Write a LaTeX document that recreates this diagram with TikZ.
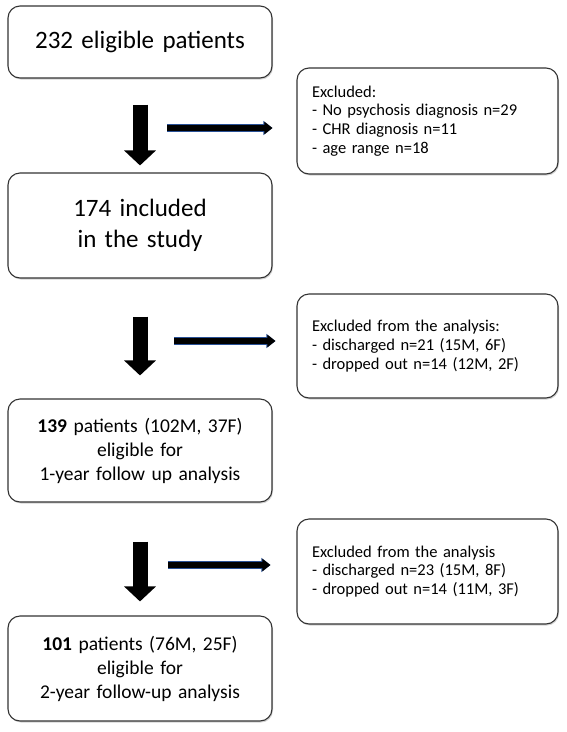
\documentclass[tikz,border=0pt]{standalone}
\usepackage{fontspec}
\setmainfont{Carlito}
\usetikzlibrary{arrows.meta,shadows}

\definecolor{edgeblue}{RGB}{40,80,150}

\tikzset{
    box/.style={draw=black!80, line width=1.1pt, rounded corners=12pt, fill=white,
        drop shadow={shadow xshift=1pt, shadow yshift=-1.5pt, opacity=0.35}},
    mainbox/.style={box, text width=256pt, inner xsep=4pt, align=center},
    sidebox/.style={box, text width=231pt, inner xsep=15pt, align=left,
        font=\fontsize{16.5}{18.8}\selectfont},
    downarrow/.style={line width=15pt, -{Triangle[width=31pt,length=15pt]}},
    sidearrow/.style={line width=6pt, -{Triangle[width=12pt,length=8pt]},
        preaction={draw=edgeblue, line width=7.5pt, -{Triangle[width=13.5pt,length=9pt]}}},
}

\begin{document}
\begin{tikzpicture}[x=1pt,y=1pt]
    \useasboundingbox (0,0) rectangle (567,-732);

    \node[mainbox, minimum height=72pt, font=\fontsize{25}{30}\selectfont] (b1) at (140,-42) {232 eligible patients};
    \node[sidebox, minimum height=106pt] (b2) at (427.5,-121) {Excluded:\\- No psychosis diagnosis n=29\\- CHR diagnosis n=11\\- age range n=18};
    \node[mainbox, minimum height=105pt, font=\fontsize{25}{31}\selectfont] (b3) at (140,-225.5) {174 included\\in the study};
    \node[sidebox, minimum height=104pt] (b4) at (427.5,-346) {Excluded from the analysis:\\- discharged n=21 (15M, 6F)\\- dropped out n=14 (12M, 2F)};
    \node[mainbox, minimum height=103pt, font=\fontsize{19.5}{24}\selectfont] (b5) at (140,-450.5) {\textbf{139} patients (102M, 37F)\\eligible for\\1-year follow up analysis};
    \node[sidebox, minimum height=105pt] (b6) at (427.5,-571.5) {Excluded from the analysis\\- discharged n=23 (15M, 8F)\\- dropped out n=14 (11M, 3F)};
    \node[mainbox, minimum height=105pt, font=\fontsize{19.5}{24}\selectfont] (b7) at (140,-668.5) {\textbf{101} patients (76M, 25F)\\eligible for\\2-year follow-up analysis};

    \draw[downarrow]([yshift=-26pt]b1.south)--([yshift=7pt]b3.north);
    \draw[downarrow]([yshift=-38pt]b3.south)--([yshift=23pt]b5.north);
    \draw[downarrow]([yshift=-39pt]b5.south)--([yshift=14pt]b7.north);

    \draw[sidearrow]([shift={(-129pt,-7pt)}]b2.west)--([shift={(-24pt,-7pt)}]b2.west);
    \draw[sidearrow]([shift={(-122pt,5pt)}]b4.west)--([shift={(-21pt,5pt)}]b4.west);
    \draw[sidearrow]([shift={(-128pt,6.5pt)}]b6.west)--([shift={(-26pt,6.5pt)}]b6.west);
\end{tikzpicture}
\end{document}
